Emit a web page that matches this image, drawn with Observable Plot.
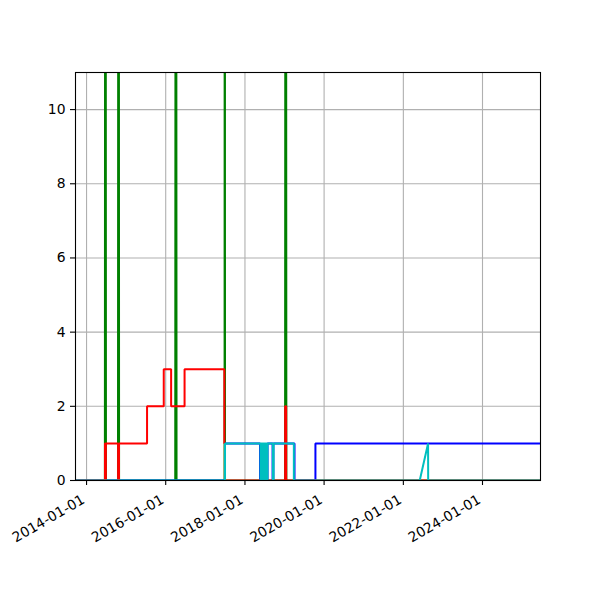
<!DOCTYPE html>
<html>
<head>
<meta charset="utf-8">
<script src="https://cdn.jsdelivr.net/npm/d3@7"></script>
<script src="https://cdn.jsdelivr.net/npm/@observablehq/plot@0.6"></script>
<style>
  html, body { margin: 0; padding: 0; background: white; }
  #chart { width: 600px; height: 600px; }
</style>
</head>
<body>
<div id="chart"></div>
<script>
const xDomain = ["2013-09-21", "2025-06-19"];
const yDomain = [0, 11];
const yTicks = [0, 2, 4, 6, 8, 10];
const xTicks = ["2014-01-01", "2016-01-01", "2018-01-01", "2020-01-01", "2022-01-01", "2024-01-01"];

const greenDates = ["2013-09-21",
  "2014-06-19", "2014-06-24", "2014-06-29",
  "2014-10-18", "2014-10-23", "2014-10-28",
  "2016-03-29", "2016-04-04", "2016-04-10",
  "2017-06-27", "2017-06-29", "2017-07-01",
  "2019-01-06", "2019-01-12", "2019-01-18",
  "2025-06-19"];
const greenValues = [0, 0, 40, 0, 0, 40, 0, 0, 40, 0, 0, 40, 0, 0, 40, 0, 0];

const redDates = ["2013-09-21",
  "2014-06-20", "2014-06-20", "2014-06-24", "2014-06-24", "2014-06-28", "2014-06-28",
  "2014-10-19", "2014-10-19", "2014-10-27", "2014-10-27",
  "2015-07-13", "2015-07-13", "2015-12-14", "2015-12-14", "2016-02-20", "2016-02-20", "2016-06-23", "2016-06-23",
  "2017-06-25", "2017-06-25", "2017-06-30", "2017-06-30", "2019-01-07", "2019-01-07", "2019-01-16", "2019-01-16",
  "2025-06-19"];
const redValues = [0,
  0, 1, 1, 0, 0, 1,
  1, 0, 0, 1,
  1, 2, 2, 3, 3, 2, 2, 3,
  3, 1, 1, 0, 0, 2, 2, 0,
  0];

const cyanDates = ["2013-09-21", "2017-07-01", "2017-07-01",
  "2018-05-24", "2018-05-24", "2018-05-29", "2018-05-29", "2018-06-03", "2018-06-03", "2018-06-08", "2018-06-08",
  "2018-06-13", "2018-06-13", "2018-06-18", "2018-06-18", "2018-06-23", "2018-06-23", "2018-06-28", "2018-06-28",
  "2018-07-03", "2018-07-03", "2018-07-08", "2018-07-08", "2018-07-13", "2018-07-13", "2018-07-18", "2018-07-18",
  "2018-07-23", "2018-07-23", "2018-07-28", "2018-07-28",
  "2018-09-16", "2018-09-16", "2018-09-22", "2018-09-22",
  "2019-03-28", "2019-03-28", "2022-06-01", "2022-08-17", "2022-08-18", "2025-06-19"];
const cyanValues = [0, 0, 1,
  1, 0, 0, 1, 1, 0, 0, 1,
  1, 0, 0, 1, 1, 0, 0, 1,
  1, 0, 0, 1, 1, 0, 0, 1,
  1, 0, 0, 1,
  1, 0, 0, 1,
  1, 0, 0, 1, 0, 0];

const blueDates = ["2013-09-21", "2017-07-01", "2017-07-01", "2018-05-20", "2018-05-20", "2018-07-28", "2018-07-28",
  "2018-09-13", "2018-09-13", "2018-09-20", "2018-09-20", "2019-04-03", "2019-04-03", "2019-10-13", "2019-10-13",
  "2025-06-19"];
const blueValues = [0, 0, 1, 1, 0, 0, 1, 1, 0, 0, 1, 1, 0, 0, 1, 1];

const parse = d3.utcParse("%Y-%m-%d");
const rows = (dates, values) => dates.map((d, i) => ({date: parse(d), value: values[i]}));

const series = [
  {data: rows(greenDates, greenValues), color: "#008000"},
  {data: rows(blueDates, blueValues), color: "#0000ff"},
  {data: rows(redDates, redValues), color: "#ff0000"},
  {data: rows(cyanDates, cyanValues), color: "#00bfbf"}
];

const xTickDates = xTicks.map(parse);

const chart = Plot.plot({
  width: 600,
  height: 600,
  marginLeft: 75,
  marginRight: 60,
  marginTop: 72,
  marginBottom: 120,
  style: {fontFamily: "DejaVu Sans", fontSize: "13.9px", background: "white", color: "black"},
  x: {type: "utc", domain: xDomain.map(parse)},
  y: {domain: yDomain},
  marks: [
    Plot.gridX(xTickDates, {stroke: "#b0b0b0", strokeOpacity: 1, strokeWidth: 1.1}),
    Plot.gridY(yTicks, {stroke: "#b0b0b0", strokeOpacity: 1, strokeWidth: 1.1}),
    ...series.map(s => Plot.line(s.data, {x: "date", y: "value", stroke: s.color, strokeWidth: 2, clip: true, strokeLinejoin: "miter"})),
    Plot.frame({stroke: "black", strokeWidth: 1.1}),
    Plot.axisX(xTickDates, {tickSize: 5, strokeWidth: 1.1, text: null, label: null}),
    Plot.axisX(xTickDates, {tickFormat: d3.utcFormat("%Y-%m-%d"), tickRotate: -30, tickSize: 0, tickPadding: 10, fontSize: 13.9, label: null, dx: -3, dy: 8}),
    Plot.axisY(yTicks, {tickSize: 5, tickPadding: 5, fontSize: 13.9, label: null, strokeWidth: 1.1})
  ]
});
document.getElementById("chart").appendChild(chart);
</script>
</body>
</html>
